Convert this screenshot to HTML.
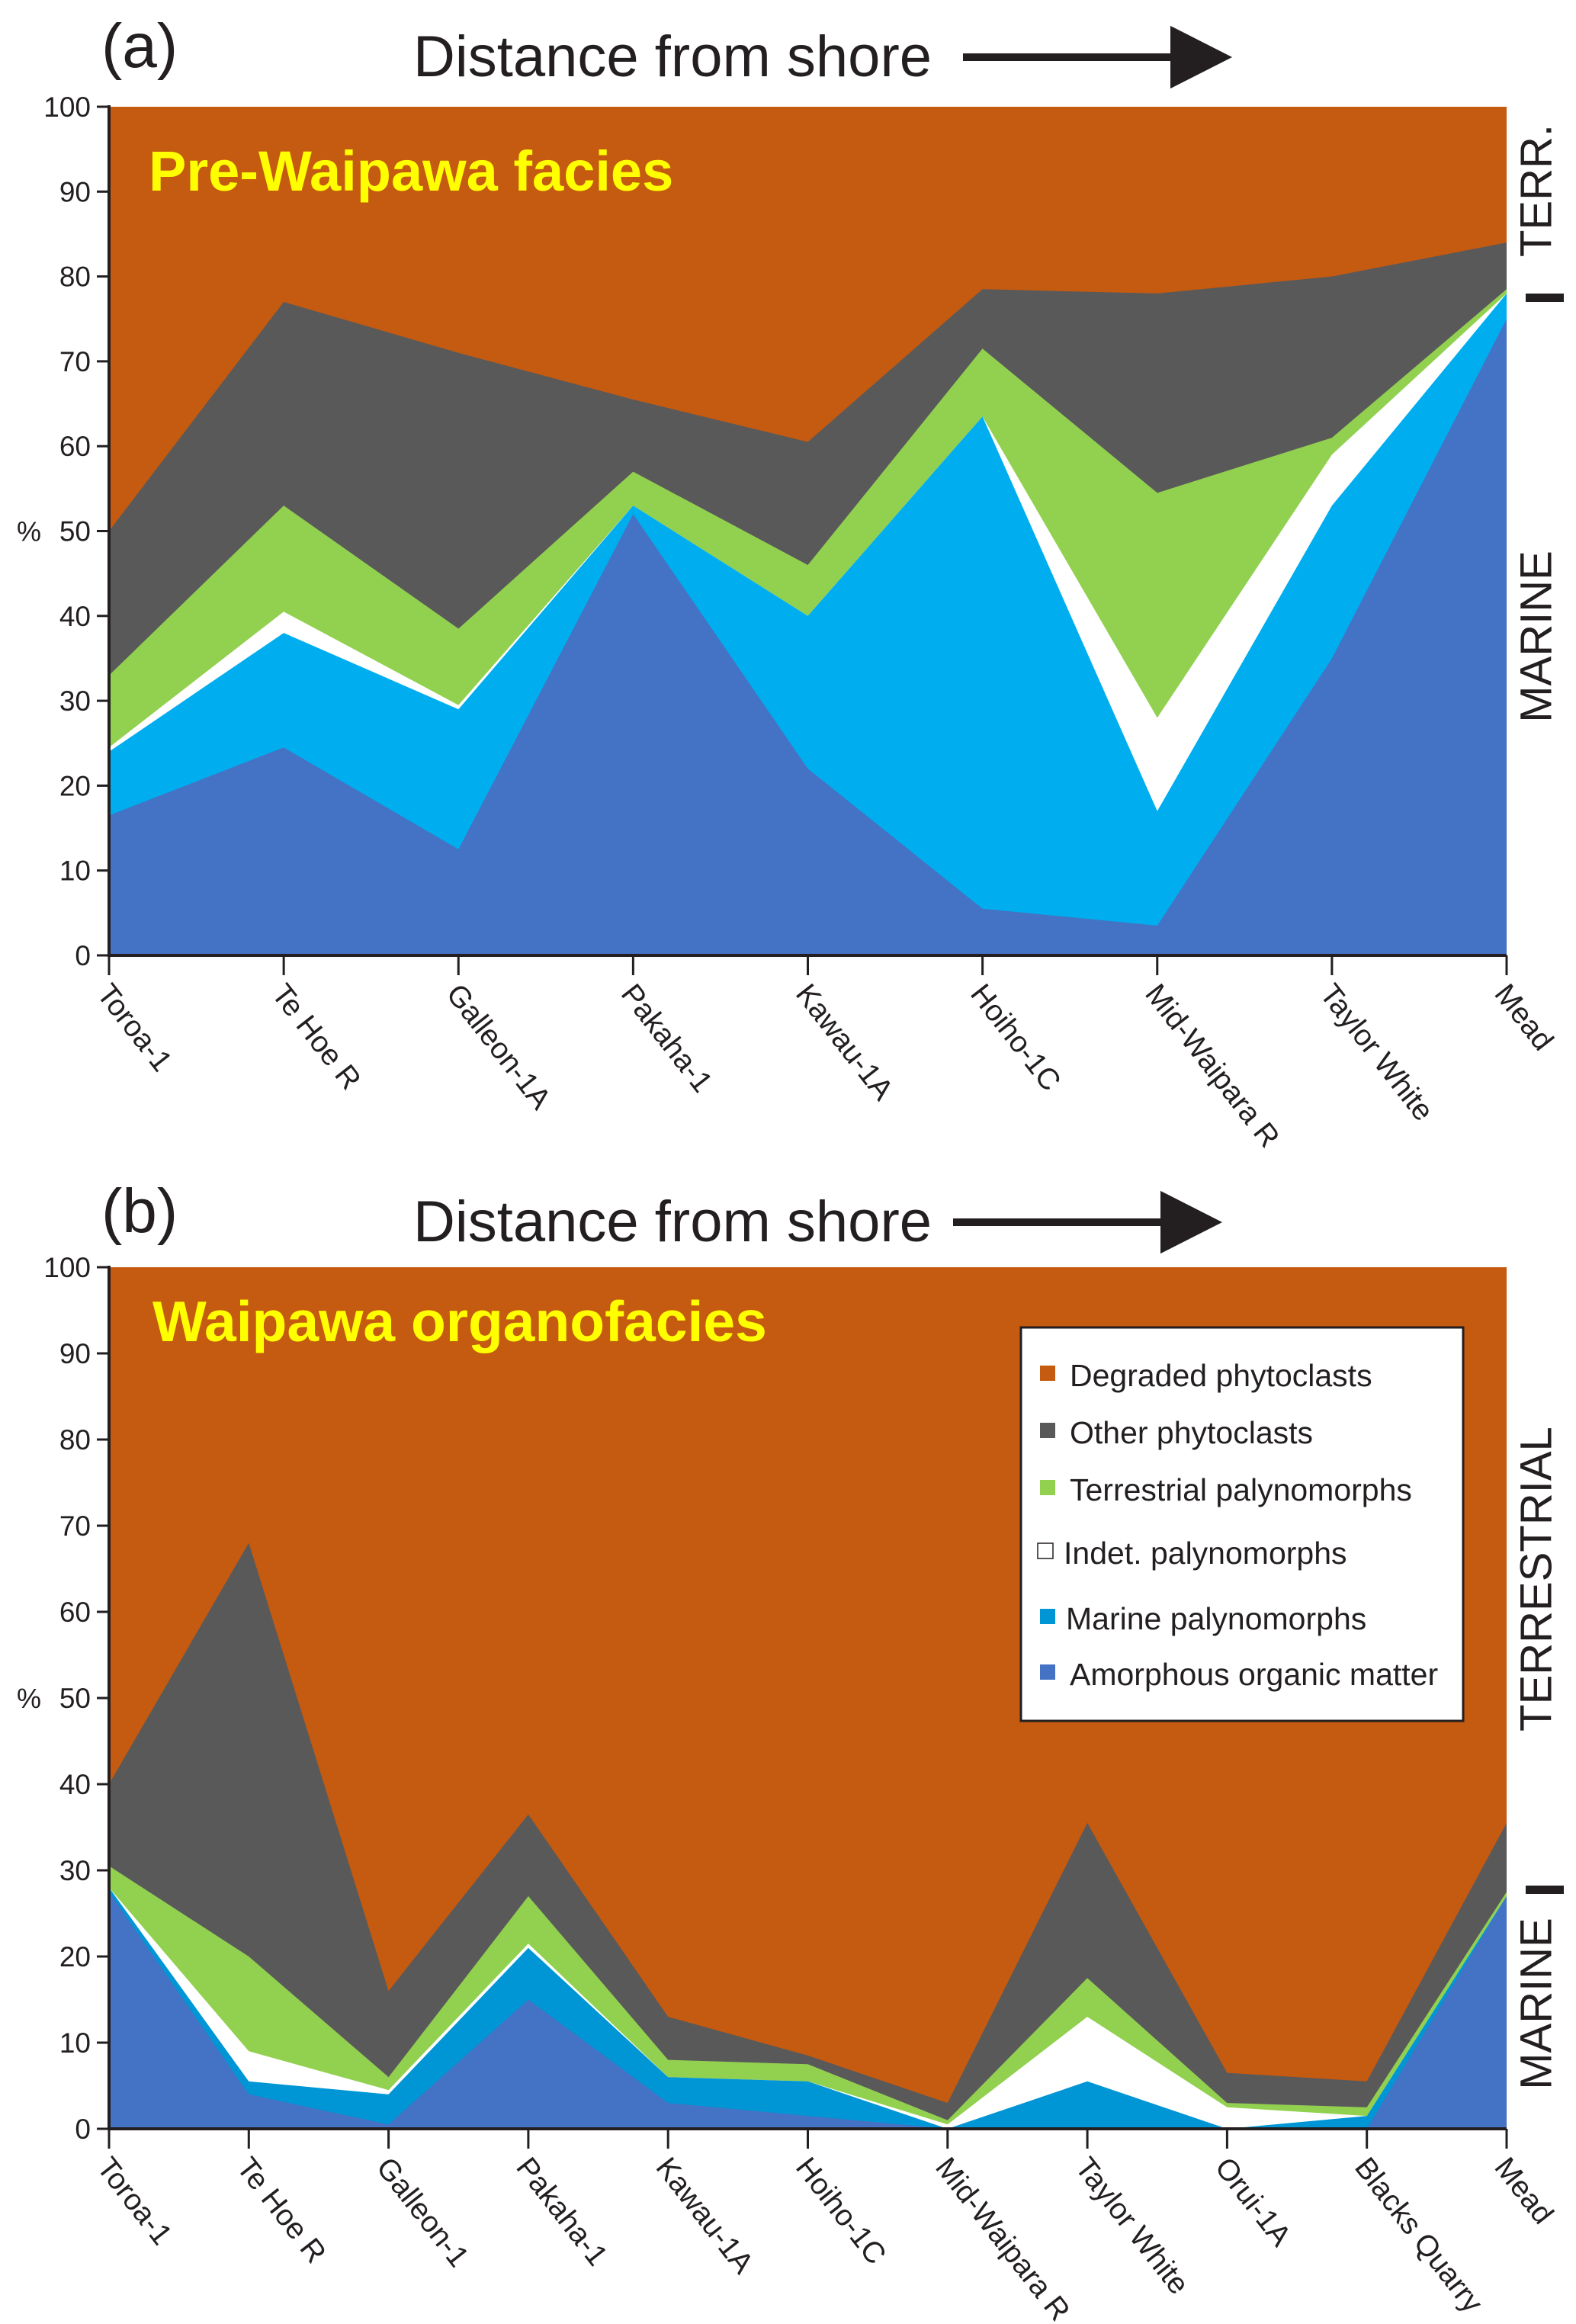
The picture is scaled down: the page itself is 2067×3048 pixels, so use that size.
<!DOCTYPE html>
<html><head><meta charset="utf-8"><style>
html,body{margin:0;padding:0;background:#fff;}
svg{display:block;font-family:"Liberation Sans",sans-serif;}
</style></head><body>
<svg id="fig" width="2067" height="3048" viewBox="0 0 2067 3048" xmlns="http://www.w3.org/2000/svg">
<g id="pa"></g>
<g id="pb"></g>
</svg>
<script>
// Panel (a) data
const catsA = ["Toroa-1","Te Hoe R","Galleon-1A","Pakaha-1","Kawau-1A","Hoiho-1C","Mid-Waipara R","Taylor White","Mead"];
const aomA   = [16.5, 24.5, 12.5, 52, 22, 5.5, 3.5, 35, 75];
const marA   = [24, 38, 29, 53, 40, 63.5, 17, 53, 78];
const indA   = [24.5, 40.5, 29.5, 53, 40, 63.5, 28, 59, 78];
const terA   = [33, 53, 38.5, 57, 46, 71.5, 54.5, 61, 78.5];
const othA   = [50, 77, 71, 65.5, 60.5, 78.5, 78, 80, 84];
const degA   = [100, 100, 100, 100, 100, 100, 100, 100, 100];
// Panel (b) data
const catsB = ["Toroa-1","Te Hoe R","Galleon-1","Pakaha-1","Kawau-1A","Hoiho-1C","Mid-Waipara R","Taylor White","Orui-1A","Blacks Quarry","Mead"];
const aomB   = [27.5, 4, 0.5, 15, 3, 1.5, 0, 0, 0, 0, 27];
const marB   = [28, 5.5, 4, 21, 6, 5.5, 0, 5.5, 0, 1.5, 27];
const indB   = [28, 9, 4.5, 21.5, 6, 5.5, 0.5, 13, 2.5, 1.5, 27];
const terB   = [30.5, 20, 6, 27, 8, 7.5, 1, 17.5, 3, 2.5, 27.5];
const othB   = [40, 68, 16, 36.5, 13, 8.5, 3, 35.5, 6.5, 5.5, 35.5];
const degB   = [100, 100, 100, 100, 100, 100, 100, 100, 100, 100, 100];
const yTicks = [0,10,20,30,40,50,60,70,80,90,100];
const legendLabels = ["Degraded phytoclasts","Other phytoclasts","Terrestrial palynomorphs","Indet. palynomorphs","Marine palynomorphs","Amorphous organic matter"];

const NS="http://www.w3.org/2000/svg";
function mk(parent,tag,attrs,text){const e=document.createElementNS(NS,tag);for(const k in attrs)e.setAttribute(k,attrs[k]);if(text!==undefined)e.textContent=text;parent.appendChild(e);return e;}

function panel(g,cfg){
  const {cats,layers,colors,names,x0,x1,y0,y100}=cfg;
  const n=cats.length;
  const X=i=>x0+(x1-x0)*i/(n-1);
  const Y=v=>y0-(y0-y100)*v/100;
  for(let L=layers.length-1;L>=0;L--){
    const top=layers[L];
    let d="M"+X(0)+","+Y(0);
    for(let i=0;i<n;i++)d+=" L"+X(i).toFixed(1)+","+Y(top[i]).toFixed(1);
    d+=" L"+X(n-1)+","+Y(0)+" Z";
    const p=mk(g,"path",{d:d,fill:colors[L]});
    
    
  }
  const ax=mk(g,"path",{d:`M${x0},${y100-2} L${x0},${y0} L${x1},${y0}`,stroke:"#231f20","stroke-width":4,fill:"none"});
  
  
  yTicks.forEach(t=>{
    mk(g,"line",{x1:x0-16,x2:x0,y1:Y(t),y2:Y(t),stroke:"#231f20","stroke-width":3});
    const tl=mk(g,"text",{x:x0-24,y:Y(t)+13,"font-size":37,"text-anchor":"end",fill:"#231f20"},String(t));
    
    
  });
  const pc=mk(g,"text",{x:22,y:Y(50)+13,"font-size":36,fill:"#231f20"},"%");
  
  
  cats.forEach((c,i)=>{
    mk(g,"line",{x1:X(i),x2:X(i),y1:y0,y2:y0+26,stroke:"#231f20","stroke-width":3});
    const lx=X(i)+4, ly=y0+34;
    const t=mk(g,"text",{x:lx,y:ly,"font-size":39,fill:"#231f20",transform:`rotate(52 ${lx} ${ly})`,"dominant-baseline":"hanging"},c);
    
    
  });
  return {X,Y};
}

const colA=["#4472c4","#00aeef","#ffffff","#92d050","#595959","#c55a11"];
const colB=["#4472c4","#0096d6","#ffffff","#92d050","#595959","#c55a11"];
const nm=["area-amorphous-organic-matter","area-marine-palynomorphs","area-indet-palynomorphs","area-terrestrial-palynomorphs","area-other-phytoclasts","area-degraded-phytoclasts"];

const ga=document.getElementById("pa"), gb=document.getElementById("pb");
panel(ga,{cats:catsA,layers:[aomA,marA,indA,terA,othA,degA],colors:colA,names:nm,x0:143,x1:1976,y0:1253,y100:140});
panel(gb,{cats:catsB,layers:[aomB,marB,indB,terB,othB,degB],colors:colB,names:nm,x0:143,x1:1976,y0:2792,y100:1662});

function header(g,label,y,ax1,ax2){
  const l=mk(g,"text",{x:133,y:y-12,"font-size":82,fill:"#231f20"},label);
  
  
  const t=mk(g,"text",{x:542,y:y,"font-size":76,fill:"#231f20"},"Distance from shore");
  
  
  const ar=mk(g,"path",{d:`M${ax1},${y-25} L${ax2-65},${y-25} M${ax2-65},${y-58} L${ax2},${y-25} L${ax2-65},${y+8} Z`,stroke:"#231f20","stroke-width":10,fill:"#231f20"});
  
  
}
header(ga,"(a)",100,1263,1605);
header(gb,"(b)",1628,1250,1592);

const ta=mk(ga,"text",{x:195,y:250,"font-size":74,"font-weight":"bold",fill:"#ffff00"},"Pre-Waipawa facies");


const tb=mk(gb,"text",{x:200,y:1759,"font-size":75,"font-weight":"bold",fill:"#ffff00"},"Waipawa organofacies");



function sideLabel(g,txt,cx,cy,fs){
  const t=mk(g,"text",{x:cx,y:cy,"font-size":fs,"text-anchor":"middle",fill:"#231f20",transform:`rotate(-90 ${cx} ${cy})`,"dominant-baseline":"central"},txt);
  
  
}
sideLabel(ga,"TERR.",2015,250,58);
sideLabel(ga,"MARINE",2015,835,58);
sideLabel(gb,"TERRESTRIAL",2015,2071,58);
sideLabel(gb,"MARINE",2015,2628,58);
const b1=mk(ga,"rect",{x:2001,y:385,width:50,height:11,fill:"#231f20"});


const b2=mk(gb,"rect",{x:2001,y:2473,width:50,height:11,fill:"#231f20"});



const lg=mk(gb,"g",{});


mk(lg,"rect",{x:1339,y:1741,width:580,height:516,fill:"#fff",stroke:"#231f20","stroke-width":3});
const lgCols=["#c55a11","#595959","#92d050","#ffffff","#0096d6","#4472c4"];
const lgY=[1818,1893,1968,2051,2137,2210];
legendLabels.forEach((s,i)=>{
  const e=mk(lg,"g",{});
  
  
  const ind=i===3;
  mk(e,"rect",{x:ind?1361:1364,y:lgY[i]-27,width:20,height:20,fill:lgCols[i],stroke:ind?"#231f20":"none","stroke-width":1.5});
  mk(e,"text",{x:ind?1395:(i===4?1398:1403),y:lgY[i],"font-size":41,fill:"#231f20"},s);
});
</script>
</body></html>
